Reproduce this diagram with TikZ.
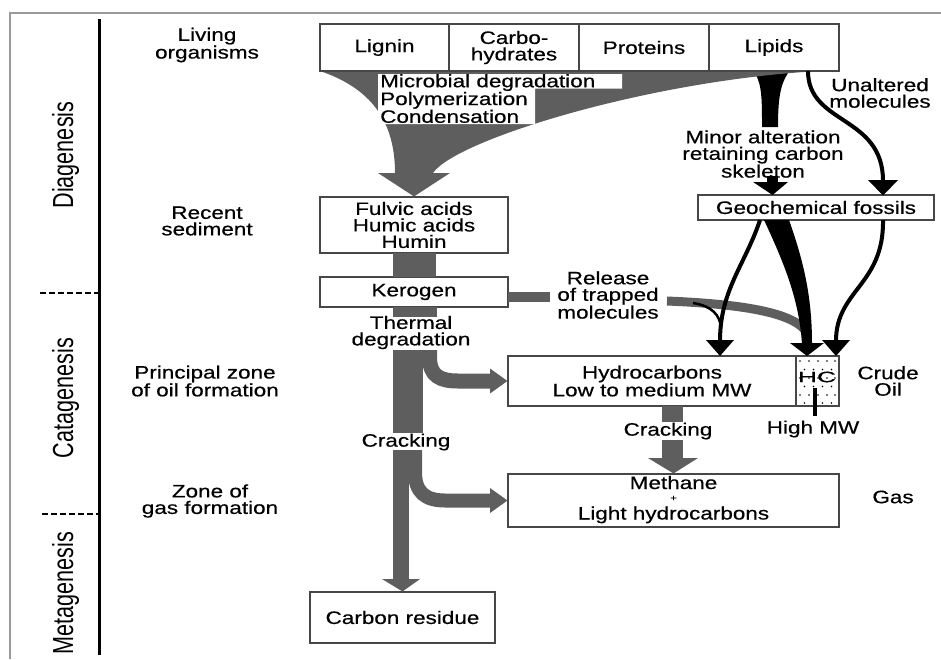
\documentclass[tikz,border=0pt]{standalone}
\usepackage{fontspec}
\usepackage{graphicx}
\setmainfont{Liberation Sans}[FakeStretch=1.25,FakeBold=0.5]
\newfontfamily\stagefont{Liberation Sans}[FakeStretch=0.745]
\newcommand{\txtfont}{\fontsize{18}{16.5}\selectfont}
\definecolor{flow}{HTML}{5E5E5E}
\definecolor{edgec}{HTML}{474747}
\definecolor{framec}{HTML}{9A9A9A}
\begin{document}
\begin{tikzpicture}[x=1pt,y=-1pt,
  box/.style={draw=edgec, line width=1.1pt, fill=white, inner sep=0pt, align=center, font=\txtfont},
  lbl/.style={align=center, inner sep=0pt, font=\txtfont},
  stage/.style={rotate=90, anchor=base, inner sep=0pt, font=\stagefont\fontsize{29}{29}\selectfont},
  tick/.style={line width=1.5pt, dash pattern=on 6pt off 3pt},
  blk/.style={line width=4pt}]
\useasboundingbox (0,0) rectangle (941,659);
% frame and axis
\draw[framec, line width=1.5pt] (10,659) -- (10,13) -- (941,13);
\coordinate (axtop) at (99.5,19);
\coordinate (axbot) at (99.5,655);
\draw[line width=2.6pt] (axtop) -- (axbot);
\coordinate (t1a) at (40,293); \coordinate (t1b) at (99,293);
\coordinate (t2a) at (42,514); \coordinate (t2b) at (99,514);
\draw[tick] (t1a) -- (t1b);
\draw[tick] (t2a) -- (t2b);
\node[stage] (dia) at (73,155) {Diagenesis};
\node[stage] (cat) at (73,398) {Catagenesis};
\node[stage] (meta) at (73,593) {Metagenesis};
% left column labels
\node[lbl] (living) at (207,45) {Living\\organisms};
\node[lbl] (recent) at (207,221) {Recent\\sediment};
\node[lbl] (oilzone) at (205,381) {Principal zone\\of oil formation};
\node[lbl] (gaszone) at (210,501) {Zone of\\gas formation};
% boxes
\node[box, minimum width=188pt, minimum height=56pt] (fulvic) at (414,225) {Fulvic acids\\Humic acids\\Humin};
\node[box, minimum width=188pt, minimum height=30pt] (kerogen) at (414,292) {Kerogen};
\node[box, minimum width=236pt, minimum height=25pt] (geo) at (816,207.5) {Geochemical fossils};
\node[box, minimum width=288pt, minimum height=50pt] (hydro) at (652,381) {Hydrocarbons\\Low to medium MW};
\node[box, minimum width=43pt, minimum height=50pt] (hc) at (817.5,381) {};
\node[box, minimum width=331pt, minimum height=53pt] (methane) at (673.5,500.5) {};
\node[lbl, anchor=base] (meth1) at (673.5,489) {Methane};
\node[inner sep=0pt, anchor=base, font=\fontsize{9}{9}\selectfont] (plus) at (673.5,501) {+};
\node[lbl, anchor=base] (meth2) at (673.5,519.5) {Light hydrocarbons};
\node[box, minimum width=185pt, minimum height=51pt] (carbon) at (402.5,617.5) {Carbon residue};
% black tapered flow from lipids
\fill (755,73) .. controls (762,85) and (762,100) .. (762,127) -- (778,127) .. controls (778,100) and (780,85) .. (788,73) -- cycle;
% gray funnel
\coordinate (fr) at (820,71);
\fill[flow] (320,71) -- (fr) .. controls (650,80) and (455,140) .. (433,173) -- (450,173) -- (fulvic.north) -- (378,173) -- (395,173) .. controls (395,120) and (370,88) .. (320,71) -- cycle;
% top boxes
\node[box, minimum width=129pt, minimum height=47pt] (lignin) at (384.5,47.5) {Lignin};
\node[box, minimum width=130pt, minimum height=47pt] (carbo) at (514,47.5) {Carbo-\\hydrates};
\node[box, minimum width=130pt, minimum height=47pt] (proteins) at (644,47.5) {Proteins};
\node[box, minimum width=130pt, minimum height=47pt] (lipids) at (774,47.5) {Lipids};
% process text cut-out
\fill[white] (378,74) -- (622,74) -- (622,88.5) -- (535,88.5) -- (535,124) -- (378,124) -- cycle;
\node[lbl, align=left, anchor=north west] (micro) at (380,74) {Microbial degradation\\Polymerization\\Condensation};
% minor alteration
\node[lbl] (minor) at (763,154) {Minor alteration\\retaining carbon\\skeleton};
\fill (767,176) rectangle (778,183);
\fill (753,182) -- (788,182) -- (772.5,195) -- cycle;
% unaltered molecules
\node[lbl] (unalt) at (880,93) {Unaltered\\molecules};
\draw[blk] (808,71) .. controls (808,125) and (883,115) .. (883,181);
\fill (868,180) -- (898,180) -- (883,195.5) -- cycle;
% fulvic -> kerogen -> trunk
\fill[flow] (393,253) rectangle (436,277);
\fill[flow] (393,307) rectangle (437,317);
\node[lbl] (thermal) at (411,332.5) {Thermal\\degradation};
\fill[flow] (393,350) rectangle (422.5,433);
\draw[flow, line width=15pt] (429.5,350) -- (429.5,357) .. controls (429.5,376) and (440,381) .. (458,381) -- (491,381);
\fill[flow] (490,368.5) -- (hydro.west) -- (490,393.5) -- cycle;
\node[lbl] (crack1) at (406,442) {Cracking};
\fill[flow] (393,450) rectangle (408.5,580);
\draw[flow, line width=14pt] (415,450) -- (415,472) .. controls (415,492) and (425,500.5) .. (445,500.5) -- (491,500.5);
\fill[flow] (490,488) -- (methane.west) -- (490,513) -- cycle;
\fill[flow] (382,579) -- (420,579) -- (carbon.north) -- cycle;
% release of trapped molecules
\fill[flow] (508,292) rectangle (550,302);
\node[lbl] (release) at (608,295) {Release\\of trapped\\molecules};
\draw[flow, line width=9pt] (667,301) .. controls (740,304) and (790,312) .. (805,330);
\draw[line width=2.5pt] (693,303) .. controls (712,306) and (720,315) .. (721,328);
% arrows from geochemical fossils
\draw[blk] (760,220) .. controls (745,265) and (720,290) .. (720,341);
\fill (706,340) -- (734,340) -- (720,356) -- cycle;
\fill (764,220) .. controls (785,265) and (799,300) .. (802,344) -- (812,344) .. controls (812,300) and (805,265) .. (789,220) -- cycle;
\fill (790,343) -- (824,343) -- (807,356) -- cycle;
\draw[blk] (883,220) .. controls (884,285) and (836,290) .. (836,341);
\fill (822,340) -- (850,340) -- (836,356) -- cycle;
% HC dotted box
\foreach \y in {361,378,395} {\foreach \x in {800,809,818,827,835} {\fill (\x,\y) circle (0.8pt);}}
\foreach \y in {369.5,386.5,403} {\foreach \x in {804.5,813.5,822.5,831.5} {\fill (\x,\y) circle (0.8pt);}}
\node[inner sep=0pt] (hctext) at (817,377) {\scalebox{1.4}[1]{\fontsize{15}{15}\selectfont HC}};
\draw[line width=4pt] (815,388) -- (815,416);
\node[lbl] (highmw) at (813,429) {High MW};
\node[lbl] (crude) at (888,381) {Crude\\Oil};
% cracking to gas
\fill[flow] (662,406) rectangle (683,422);
\node[lbl] (crack2) at (668,431) {Cracking};
\fill[flow] (662,440) rectangle (683,459);
\fill[flow] (648,458) -- (698,458) -- (methane.north) -- cycle;
\node[lbl] (gas) at (893,497) {Gas};
\end{tikzpicture}
\end{document}
